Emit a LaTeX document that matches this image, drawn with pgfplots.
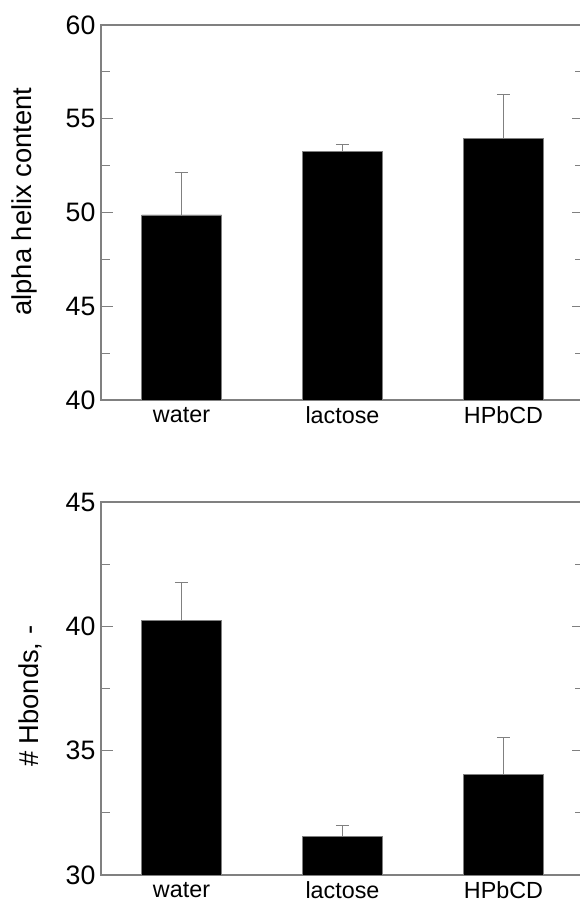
\documentclass[border=0pt]{standalone}
\usepackage{fontspec}
\setmainfont{Liberation Sans}
\usepackage{pgfplots}
\pgfplotsset{compat=1.18}

% 1 px of the reference = 0.75pt
\pgfplotsset{
  barpanel/.style={
    scale only axis,
    width=362.25pt,
    xmin=-0.5, xmax=2.5,
    xtick={0,1,2},
    xticklabels={water,lactose,HPbCD},
    xtick style={draw=none},
    minor y tick num=1,
    tick align=inside,
    major tick length=8.8pt,
    minor tick length=6.5pt,
    tick style={gray, line width=0.8pt},
    axis line style={gray, line width=1pt},
    /pgf/number format/assume math mode=true,
    yticklabel style={font=\fontsize{20}{24}\selectfont, inner sep=4pt},
    xticklabel style={font=\fontsize{17.5}{21}\selectfont, inner sep=5pt},
    label style={font=\fontsize{20.5}{24}\selectfont},
    ylabel style={anchor=south, inner sep=0pt},
    clip=true,
  },
  blackbar/.style={
    ybar, bar width=60pt, fill=black, draw=gray, line width=0.6pt,
    error bars/.cd, y dir=plus, y explicit,
    error bar style={gray, line width=0.8pt},
    error mark options={gray, rotate=90, mark size=5pt, line width=0.8pt},
  },
}

\begin{document}
\begin{tikzpicture}
\useasboundingbox (0,0) rectangle (434.25pt,678.75pt);

\begin{axis}[
    barpanel,
    at={(75.75pt,378.75pt)}, anchor=south west,
    height=281.25pt,
    ymin=40, ymax=60,
    ytick={40,45,50,55,60},
    ylabel={alpha helix content},
    ylabel style={at={(axis description cs:-0.1325,0.529)}},
]
\addplot[blackbar] coordinates {
    (0,49.87) +- (0,2.25)
    (1,53.25) +- (0,0.40)
    (2,53.95) +- (0,2.32)
};
\end{axis}

\begin{axis}[
    barpanel,
    at={(75.75pt,22.5pt)}, anchor=south west,
    height=279.75pt,
    ymin=30, ymax=45,
    ytick={30,35,40,45},
    ylabel={\# Hbonds, -},
    ylabel style={at={(axis description cs:-0.122,0.479)}},
]
\addplot[blackbar] coordinates {
    (0,40.25) +- (0,1.52)
    (1,31.54) +- (0,0.44)
    (2,34.05) +- (0,1.48)
};
\end{axis}
\end{tikzpicture}
\end{document}
